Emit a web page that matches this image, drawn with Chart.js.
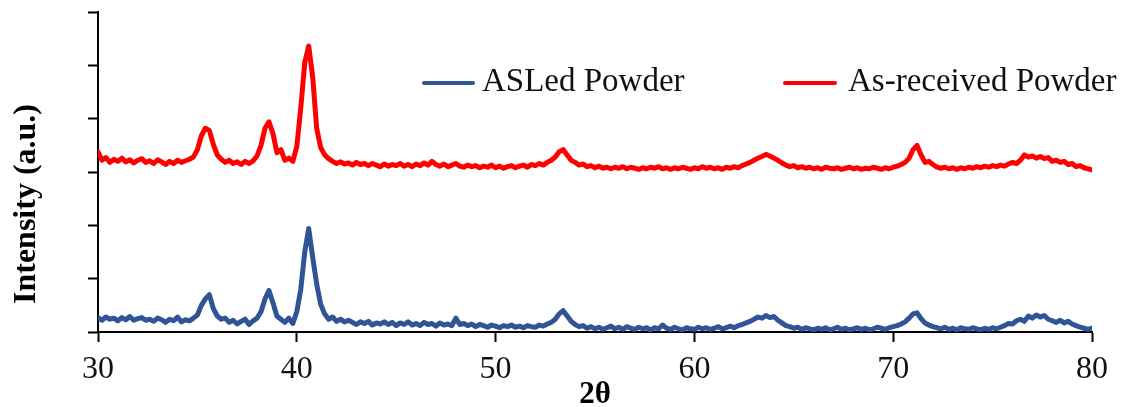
<!DOCTYPE html>
<html>
<head>
<meta charset="utf-8">
<script src="https://cdn.jsdelivr.net/npm/chart.js@4"></script>
<style>
  body { margin: 0; background: #fff; }
  #wrap { position: relative; width: 1133px; height: 407px; }
  .sw { position: absolute; height: 4px; border-radius: 2px; }
  .lab { position: absolute; font: 33px "Liberation Serif", "Times New Roman", serif; line-height: 33px; color: #111; white-space: nowrap; }
</style>
</head>
<body>
<div id="wrap">
  <canvas id="xrd"></canvas>
  <div class="sw" style="left:422px;top:81px;width:53px;background:#2f5597"></div>
  <span class="lab" style="left:482px;top:64px">ASLed Powder</span>
  <div class="sw" style="left:783px;top:81px;width:54px;background:#ff0000"></div>
  <span class="lab" style="left:848px;top:64px">As-received Powder</span>
</div>
<script>
document.addEventListener("DOMContentLoaded", () => {

  // 2θ sampling of the scans
  const startAngle = 30;
  const angleStep = 0.2;

  // ASLed powder, 30.0 .. 80.0 (rows of 2°)
  const asled = [
    27, 22, 28, 24, 26, 21, 27, 23, 29, 22,
    25, 27, 22, 24, 20, 26, 23, 18, 24, 21,
    28, 19, 23, 21, 26, 32, 50, 62, 70, 44,
    30, 24, 26, 18, 22, 15, 20, 24, 14, 21,
    26, 38, 62, 78, 55, 30, 24, 18, 26, 16,
    38, 80, 150, 194, 140, 90, 52, 34, 24, 28,
    20, 24, 19, 22, 18, 14, 19, 16, 20, 13,
    17, 15, 19, 14, 18, 12, 17, 14, 19, 13,
    16, 12, 18, 14, 16, 11, 17, 13, 15, 12,
    26, 14, 16, 12, 15, 10, 14, 12, 9, 13,
    11, 8, 12, 10, 13, 9, 11, 8, 12, 10,
    9, 13, 11, 15, 18, 24, 34, 40, 30, 20,
    14, 10, 12, 7, 10, 6, 9, 5, 8, 11,
    6, 9, 5, 10, 7, 5, 9, 6, 8, 4,
    8, 6, 13, 7, 5, 9, 6, 4, 8, 6,
    5, 9, 6, 8, 5, 7, 10, 6, 8, 11,
    8, 12, 14, 17, 20, 24, 28, 26, 31, 27,
    29, 22, 17, 12, 10, 7, 9, 5, 8, 6,
    4, 7, 5, 8, 4, 6, 9, 5, 7, 4,
    6, 8, 5, 7, 4, 6, 9, 7, 5, 8,
    10, 12, 15, 19, 26, 34, 36, 25, 17, 13,
    10, 8, 6, 9, 5, 7, 4, 8, 6, 5,
    8, 6, 4, 7, 5, 8, 6, 9, 12, 16,
    15, 21, 24, 20, 30, 26, 32, 28, 31, 24,
    21, 18, 22, 17, 20, 15, 12, 9, 7, 5,
    7
  ];

  // As-received powder, 30.0 .. 80.0 (rows of 2°)
  const asReceived = [
    338, 322, 327, 318, 324, 320, 326, 319, 323, 317,
    322, 325, 318, 321, 316, 323, 319, 314, 320, 316,
    322, 318, 321, 324, 328, 342, 368, 382, 378, 352,
    332, 324, 318, 322, 316, 319, 314, 320, 316, 321,
    330, 350, 382, 394, 372, 336, 342, 322, 326, 320,
    348, 420, 505, 536, 478, 382, 346, 332, 325, 320,
    316, 319, 315, 317, 313, 318, 314, 316, 312, 316,
    313, 310, 315, 311, 314, 312, 316, 311, 314, 310,
    315, 312, 317, 313, 320, 314, 311, 315, 310, 313,
    316, 311, 309, 313, 310, 312, 308, 311, 309, 313,
    308, 311, 307, 310, 312, 308, 311, 313, 309, 314,
    312, 316, 313, 318, 322, 328, 338, 342, 332, 322,
    318, 313, 315, 310, 312, 308, 311, 307, 309, 306,
    309, 307, 310, 306, 309, 307, 305, 308, 306, 309,
    307, 310, 306, 308, 305, 308, 306, 309, 307, 305,
    308, 306, 310, 307, 309, 306, 308, 305, 309, 307,
    310, 308, 312, 315, 318, 322, 326, 329, 333, 330,
    326, 322, 317, 313, 310, 312, 308, 310, 307, 309,
    306, 308, 305, 309, 307, 306, 308, 305, 307, 309,
    306, 308, 305, 307, 306, 309, 307, 305, 308, 306,
    309, 311, 314, 318, 326, 342, 350, 332, 318, 320,
    314, 309, 307, 309, 306, 308, 305, 308, 306, 309,
    307, 310, 308, 311, 309, 312, 310, 313, 311, 315,
    318, 316, 322, 332, 328, 330, 326, 329, 325, 327,
    320, 322, 318, 320, 314, 316, 310, 312, 308, 306,
    304
  ];

  const xTicks = [30, 40, 50, 60, 70, 80];

  const toPoints = arr => arr.map((v, i) => ({ x: +(startAngle + i * angleStep).toFixed(1), y: v }));

  const serif = "'Liberation Serif', 'Times New Roman', serif";

  new Chart(document.getElementById("xrd"), {
    type: "line",
    data: {
      datasets: [
        { label: "ASLed Powder", data: toPoints(asled), borderColor: "#2f5597", borderWidth: 5 },
        { label: "As-received Powder", data: toPoints(asReceived), borderColor: "#ff0000", borderWidth: 5 }
      ]
    },
    options: {
      responsive: true,
      maintainAspectRatio: false,
      animation: false,
      elements: { point: { radius: 0 }, line: { tension: 0, borderJoinStyle: "round", borderCapStyle: "round" } },
      layout: { padding: { top: 12, right: 41, left: 0, bottom: 0 } },
      plugins: { legend: { display: false }, tooltip: { enabled: false } },
      scales: {
        x: {
          type: "linear",
          min: 30, max: 80,
          afterBuildTicks: s => { s.ticks = xTicks.map(v => ({ value: v })); },
          afterFit: s => { s.height = 75; },
          ticks: { color: "#111", font: { family: serif, size: 32 }, padding: 8, maxRotation: 0 },
          grid: { drawOnChartArea: false, drawTicks: true, tickLength: 10, tickColor: "#000", tickWidth: 2 },
          border: { display: true, color: "#000", width: 2 },
          title: { display: true, text: "2θ", color: "#000", font: { family: serif, size: 31, weight: "bold", lineHeight: 1 }, padding: { top: 0, bottom: -3 } }
        },
        y: {
          min: 0, max: 600,
          ticks: { stepSize: 100, display: false },
          afterFit: s => { s.width = 98; },
          grid: { drawOnChartArea: false, drawTicks: true, tickLength: 10, tickColor: "#000", tickWidth: 2 },
          border: { display: true, color: "#000", width: 2 },
          title: { display: true, text: "Intensity (a.u.)        ", color: "#000", font: { family: serif, size: 32, weight: "bold" }, padding: { top: 8, bottom: 0 } }
        }
      }
    }
  });

});
</script>
</body>
</html>
